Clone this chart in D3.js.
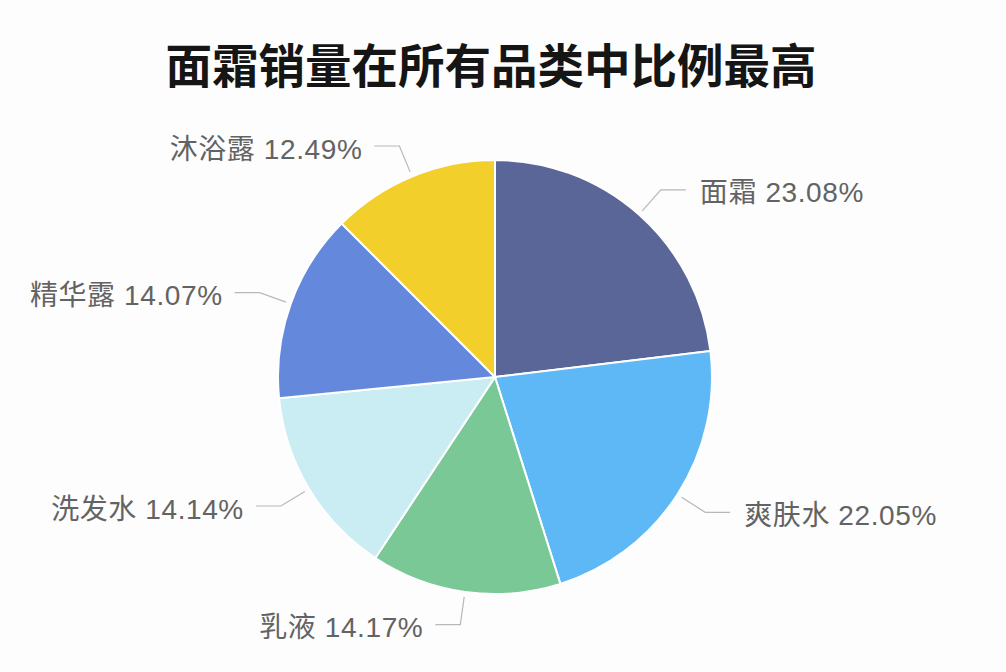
<!DOCTYPE html>
<html><head><meta charset="utf-8">
<script src="https://cdn.jsdelivr.net/npm/d3@7"></script>
<style>
html,body{margin:0;padding:0;background:#fdfdfd;}
svg{display:block;}
</style></head>
<body>
<svg id="chart" width="1006" height="672"></svg>
<script>
const categories = ["面霜","爽肤水","乳液","洗发水","精华露","沐浴露"];
const values = [23.08, 22.05, 14.17, 14.14, 14.07, 12.49];
const colors = ["#5b6698","#5db8f5","#7bc897","#c9edf2","#6489dc","#f2cf2a"];
const titleText = "面霜销量在所有品类中比例最高";

const svg = d3.select("#chart");
const cx = 495, cy = 377, R = 217;

svg.append("text")
  .attr("x", 491).attr("y", 62)
  .attr("text-anchor","middle").attr("dominant-baseline","central")
  .attr("font-family","'Noto Sans CJK SC', sans-serif")
  .attr("font-weight","bold").attr("font-size",46.5)
  .attr("fill","#151515")
  .text(titleText);

const data = categories.map((c,i)=>({name:c, value:values[i], color:colors[i]}));
const pie = d3.pie().value(d=>d.value).sort(null).startAngle(0).endAngle(2*Math.PI);
const arcs = pie(data);
const arc = d3.arc().innerRadius(0).outerRadius(R);

const g = svg.append("g").attr("transform",`translate(${cx},${cy})`);
g.selectAll("path.slice").data(arcs).join("path")
  .attr("class","slice")
  .attr("d",arc)
  .attr("fill",d=>d.data.color)
  .attr("stroke","#fff").attr("stroke-width",2).attr("stroke-linejoin","round");

const pt = (a,r)=>[r*Math.sin(a), -r*Math.cos(a)];
arcs.forEach(d=>{
  const m = (d.startAngle+d.endAngle)/2;
  const p1 = pt(m, R+5), p2 = pt(m, R+33);
  const right = Math.sin(m) >= 0;
  const p3 = [p2[0] + (right?25:-25), p2[1]];
  g.append("polyline")
    .attr("points",[p1,p2,p3].map(p=>p.join(",")).join(" "))
    .attr("fill","none").attr("stroke","#b8b8b8").attr("stroke-width",1.2);
  g.append("text")
    .attr("x", p3[0] + (right?14:-12)).attr("y", p3[1]+3)
    .attr("text-anchor", right?"start":"end")
    .attr("dominant-baseline","central")
    .attr("font-family","'Liberation Sans','Noto Sans CJK SC', sans-serif")
    .attr("font-size",28).attr("fill","#636363")
    .attr("letter-spacing",0.6)
    .text(`${d.data.name} ${d.data.value.toFixed(2)}%`);
});
</script>
</body></html>
